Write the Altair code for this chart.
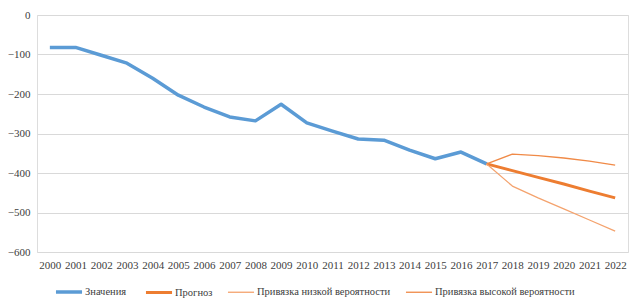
import altair as alt
import pandas as pd

years_hist = [str(y) for y in range(2000, 2018)]
values_hist = [-82, -82, -102, -122, -160, -203, -233, -258, -268, -226,
               -273, -294, -314, -317, -342, -364, -347, -377]

years_fc = [str(y) for y in range(2017, 2023)]
forecast = [-377, -394, -411, -428, -446, -463]
upper_bound = [-377, -352, -356, -362, -370, -380]
lower_bound = [-377, -433, -463, -491, -519, -547]

series_names = ["Значения", "Прогноз", "Привязка низкой вероятности", "Привязка высокой вероятности"]
colors = ["#5B9BD5", "#ED7D31", "#F4A36E", "#F08A47"]
widths = [3.5, 3, 1.3, 1.3]
all_years = [str(y) for y in range(2000, 2023)]

rows = []
for y, v in zip(years_hist, values_hist):
    rows.append({"year": y, "value": v, "series": series_names[0]})
for y, v in zip(years_fc, forecast):
    rows.append({"year": y, "value": v, "series": series_names[1]})
for y, v in zip(years_fc, lower_bound):
    rows.append({"year": y, "value": v, "series": series_names[2]})
for y, v in zip(years_fc, upper_bound):
    rows.append({"year": y, "value": v, "series": series_names[3]})
df = pd.DataFrame(rows)

font = "Liberation Serif"

legend_kw = dict(title=None, orient="none", legendX=17, legendY=262,
                 direction="horizontal", columns=4,
                 symbolType="stroke", symbolSize=680,
                 labelFont=font, labelFontSize=10.5,
                 labelColor="#404040", labelOffset=1,
                 columnPadding=12, labelLimit=300)

chart = alt.Chart(df).mark_line(strokeJoin="round").encode(
    x=alt.X("year:O", sort=all_years,
            scale=alt.Scale(domain=all_years, padding=0.5),
            axis=alt.Axis(title=None, labelAngle=0, ticks=False, domain=False,
                          labelPadding=7, labelFont=font, labelFontSize=11,
                          labelColor="#404040")),
    y=alt.Y("value:Q", scale=alt.Scale(domain=[-600, 0], nice=False),
            axis=alt.Axis(title=None, values=[0, -100, -200, -300, -400, -500, -600],
                          ticks=False, domain=False, labelPadding=7,
                          labelFont=font, labelFontSize=11, labelColor="#404040",
                          gridColor="#D9D9D9", gridWidth=1)),
    color=alt.Color("series:N", sort=series_names,
                    scale=alt.Scale(domain=series_names, range=colors),
                    legend=alt.Legend(**legend_kw)),
    strokeWidth=alt.StrokeWidth("series:N", sort=series_names,
                                scale=alt.Scale(type="ordinal", domain=series_names, range=widths),
                                legend=alt.Legend(**legend_kw)),
    detail="series:N",
).properties(
    width=591, height=237,
    autosize=alt.AutoSizeParams(type="none"),
    padding={"left": 29, "top": 7, "right": 7, "bottom": 48},
).configure_view(stroke=None).configure(font=font)

chart.save("out.html", embed_options={"renderer": "svg", "actions": False})
